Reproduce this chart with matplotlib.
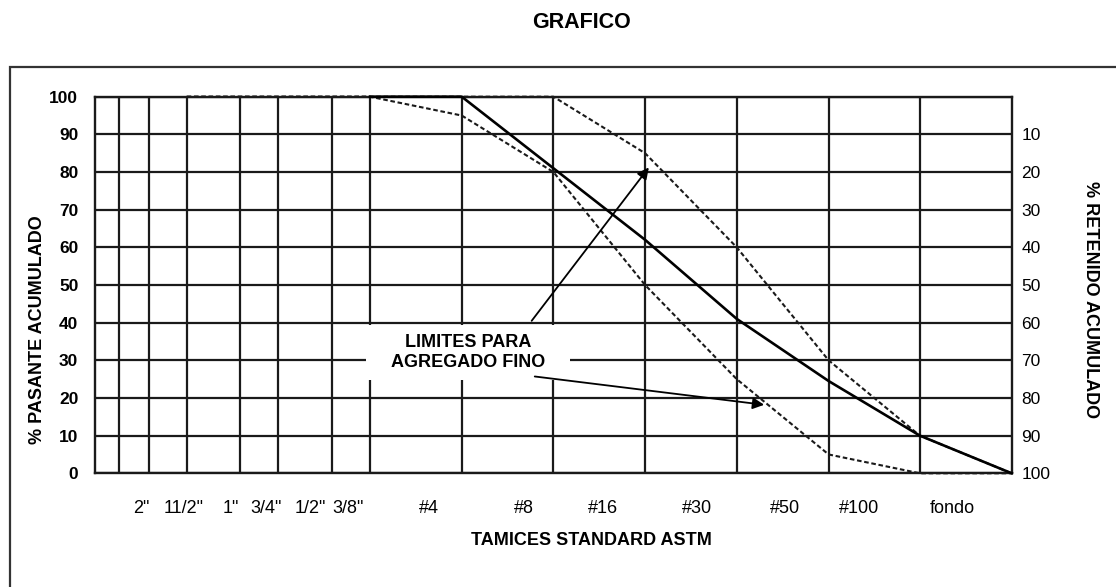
import numpy as np
import matplotlib
matplotlib.use("Agg")
import matplotlib.pyplot as plt
from matplotlib.patches import Rectangle

plt.rcParams['font.family'] = ['Liberation Sans', 'DejaVu Sans']

# sieve openings (mm) for the grid lines, coarse -> fine
grid_open = [63.5, 50.8, 38.1, 25.4, 19.05, 12.7, 9.525, 4.76, 2.38, 1.19, 0.595, 0.297, 0.149]
x_left, x_fondo = 76.2, 0.0744
sieve_labels = ['2"', '11/2"', '1"', '3/4"', '1/2"', '3/8"', '#4', '#8', '#16', '#30', '#50', '#100', 'fondo']
label_pos = [0.051, 0.097, 0.148, 0.1865, 0.2345, 0.276, 0.364, 0.468, 0.554, 0.657, 0.753, 0.834, 0.935]

# limits (ASTM fine aggregate) and the sample curve
lim_x = [38.1, 25.4, 19.05, 12.7, 9.525, 4.76, 2.38, 1.19, 0.595, 0.297, 0.149, 0.0744]
lim_sup = [100, 100, 100, 100, 100, 100, 100, 85, 60, 30, 10, 0]
lim_inf = [100, 100, 100, 100, 100, 95, 80, 50, 25, 5, 0, 0]
mues_x = [9.525, 4.76, 2.38, 1.19, 0.595, 0.297, 0.149, 0.0744]
mues_y = [100, 100, 81, 62, 41, 24.5, 10, 0]

fig = plt.figure(figsize=(11.16, 5.87), dpi=100)
ax = fig.add_axes([95/1116, 1-473.3/587, 916.7/1116, 376.6/587])

ax.set_xscale('log')
ax.set_xlim(x_left, x_fondo)
ax.set_ylim(0, 100)
ax.set_xticks(grid_open)
ax.set_xticks([], minor=True)
ax.set_xticklabels([])
ax.set_yticks(np.arange(0, 101, 10))
ax.tick_params(axis='both', length=0)
ax.tick_params(axis='y', pad=12, labelsize=12.5)
for t in ax.get_yticklabels():
    t.set_fontweight('bold')
ax.grid(True, color='#1a1a1a', linewidth=1.6)
ax.set_axisbelow(True)
for s in ax.spines.values():
    s.set_linewidth(1.7)
    s.set_color('#1a1a1a')

ax.plot(lim_x, lim_sup, color='#1a1a1a', lw=1.5, ls=(0, (2.2, 1.3)), clip_on=False, zorder=4)
ax.plot(lim_x, lim_inf, color='#1a1a1a', lw=1.5, ls=(0, (2.2, 1.3)), clip_on=False, zorder=4)
ax.plot(mues_x, mues_y, color='black', lw=1.9, clip_on=False, zorder=5)

# white box behind the annotation
ax.add_patch(Rectangle((0.296, 0.248), 0.222, 0.146, transform=ax.transAxes,
                       facecolor='white', edgecolor='none', zorder=3))
ax.text(0.407, 0.321, 'LIMITES PARA\nAGREGADO FINO', transform=ax.transAxes,
        ha='center', va='center', fontsize=13, fontweight='bold', linespacing=1.2, zorder=6)
arrow = dict(arrowstyle='-|>', color='black', lw=1.3, mutation_scale=17)
ax.annotate('', xy=(0.606, 0.818), xytext=(0.4745, 0.399),
            xycoords='axes fraction', textcoords='axes fraction', arrowprops=arrow, zorder=6)
ax.annotate('', xy=(0.733, 0.181), xytext=(0.4767, 0.258),
            xycoords='axes fraction', textcoords='axes fraction', arrowprops=arrow, zorder=6)

for lab, xp in zip(sieve_labels, label_pos):
    ax.text(xp, -0.093, lab, transform=ax.transAxes, ha='center', va='center', fontsize=13)

ax2 = ax.twinx()
ax2.set_ylim(100, 0)
ax2.set_yticks(np.arange(10, 101, 10))
ax2.tick_params(axis='y', length=0, pad=7, labelsize=12.5)
for s in ax2.spines.values():
    s.set_visible(False)

fig.text(0.5215, 0.9625, 'GRAFICO', ha='center', va='center', fontsize=15.5, fontweight='bold')
fig.text(0.5296, 0.080, 'TAMICES STANDARD ASTM', ha='center', va='center', fontsize=13, fontweight='bold')
fig.text(0.034, 0.438, '% PASANTE ACUMULADO', rotation=90, ha='center', va='center',
         fontsize=13, fontweight='bold')
fig.text(0.977, 0.489, '% RETENIDO ACUMULADO', rotation=270, ha='center', va='center',
         fontsize=13, fontweight='bold')

# outer frame (runs off the right and bottom of the picture)
fig.add_artist(Rectangle((10/1116, -0.2), 1.2, 1.2 - 66.7/587, transform=fig.transFigure,
                         facecolor='none', edgecolor='#333333', lw=1.6))

fig.savefig('out.png', dpi=100)
